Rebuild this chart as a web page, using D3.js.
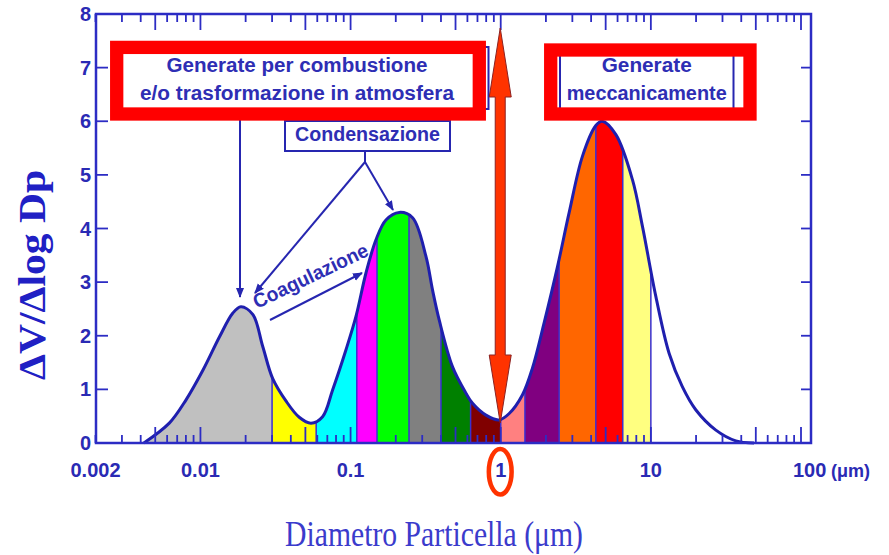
<!DOCTYPE html>
<html>
<head>
<meta charset="utf-8">
<script src="https://cdn.jsdelivr.net/npm/d3@7"></script>
<style>
  html, body { margin: 0; padding: 0; background: #ffffff; }
  svg { display: block; }
</style>
</head>
<body>
<svg id="chart" width="889" height="555"></svg>
<script>
// ---- data ----
const diameters = [0.0042, 0.0062, 0.0080, 0.0104, 0.0134, 0.0164, 0.0186, 0.0223, 0.0260, 0.0303,
  0.0372, 0.0455, 0.0545, 0.0651, 0.0759, 0.0932, 0.1086, 0.1266, 0.1476, 0.172,
  0.211, 0.2588, 0.3177, 0.3516, 0.3896, 0.4777, 0.5866, 0.6491, 0.797, 0.977,
  1.139, 1.397, 1.628, 1.949, 2.389, 2.858, 3.505, 4.30, 4.74, 5.85,
  7.54, 8.79, 10.8, 13.24, 16.2, 19.9, 27.1, 36.8, 48.7];
const dvdlogdp = [0, 0.37, 0.80, 1.36, 1.98, 2.42, 2.54, 2.40, 1.80, 1.20,
  0.78, 0.48, 0.37, 0.49, 0.99, 1.74, 2.36, 3.17, 3.79, 4.16,
  4.30, 4.20, 3.48, 2.85, 2.29, 1.42, 0.93, 0.74, 0.52, 0.43,
  0.55, 0.90, 1.40, 2.25, 3.29, 4.30, 5.35, 5.92, 6.00, 5.75,
  4.91, 4.04, 2.73, 1.67, 1.05, 0.62, 0.24, 0.04, 0];
const bandEdges = [0.0042, 0.03, 0.059, 0.11, 0.15, 0.245, 0.40, 0.63, 1.0, 1.45, 2.45, 4.3, 6.5, 10];
const bandColors = ["#c0c0c0", "#ffff00", "#00ffff", "#ff00ff", "#00ff00", "#808080", "#008000",
  "#800000", "#ff8080", "#800080", "#ff6600", "#ff0000", "#ffff80"];
const xTickLabels = ["0.002", "0.01", "0.1", "1", "10", "100"];
const xTickValues = [0.002, 0.01, 0.1, 1, 10, 100];
const yTickValues = [0, 1, 2, 3, 4, 5, 6, 7, 8];
const yTitle = "\u0394V/\u0394log Dp";
const xTitle = "Diametro Particella (\u03bcm)";
const unitLabel = "(\u03bcm)";
const boxFineLines = ["Generate per combustione", "e/o trasformazione in atmosfera"];
const boxCoarseLines = ["Generate", "meccanicamente"];
const condLabel = "Condensazione";
const coagLabel = "Coagulazione";

// ---- scales ----
const x = d3.scaleLog().domain([0.002, 100]).range([95.5, 801]);
const y = d3.scaleLinear().domain([0, 8]).range([443, 14]);
const frame = {left: 96, right: 811, top: 14, bottom: 443};

const svg = d3.select("#chart");
const blue = "#2c2cc4";
const curveBlue = "#1f1fae";
const txtBlue = "#2e2eb4";

const defs = svg.append("defs");
const pts = diameters.map((d, i) => [d, dvdlogdp[i]]);
const crv = d3.curveCatmullRom.alpha(0.5);
const area = d3.area().x(d => x(d[0])).y0(y(0)).y1(d => y(d[1])).curve(crv);
const line = d3.line().x(d => x(d[0])).y(d => y(d[1])).curve(crv);

defs.append("clipPath").attr("id", "under").append("path").attr("d", area(pts));
defs.append("marker").attr("id", "ah").attr("viewBox", "0 0 10 10")
  .attr("refX", 9).attr("refY", 5).attr("markerWidth", 5).attr("markerHeight", 5)
  .attr("markerUnits", "strokeWidth").attr("orient", "auto")
  .append("path").attr("d", "M0,1 L10,5 L0,9 Z").attr("fill", "#2626b0");

// ---- colored bands under the curve ----
const bands = svg.append("g").attr("clip-path", "url(#under)");
bandColors.forEach((c, i) => {
  bands.append("rect")
    .attr("x", x(bandEdges[i])).attr("width", x(bandEdges[i + 1]) - x(bandEdges[i]))
    .attr("y", y(8)).attr("height", y(0) - y(8)).attr("fill", c);
});
bandEdges.slice(1).forEach(e => {
  bands.append("line").attr("x1", x(e)).attr("x2", x(e)).attr("y1", y(0)).attr("y2", y(8))
    .attr("stroke", "#3a2fd0").attr("stroke-width", 1.5);
});

// ---- curve ----
svg.append("path").attr("d", line(pts)).attr("fill", "none")
  .attr("stroke", curveBlue).attr("stroke-width", 3).attr("stroke-linejoin", "round");

// ---- frame and ticks ----
svg.append("rect").attr("x", frame.left).attr("y", frame.top)
  .attr("width", frame.right - frame.left).attr("height", frame.bottom - frame.top)
  .attr("fill", "none").attr("stroke", blue).attr("stroke-width", 2.5);

const logTicks = [];
[0.001, 0.01, 0.1, 1, 10].forEach(dec => {
  for (let m = 1; m <= 9; m++) {
    const v = +(dec * m).toPrecision(3);
    if (v >= 0.002 && v <= 100) logTicks.push({v: v, major: (m === 1 || m === 5)});
  }
});
logTicks.push({v: 100, major: true});
const tk = svg.append("g").attr("stroke", blue).attr("stroke-width", 1.8);
logTicks.forEach(t => {
  const L = t.major ? 16 : 8;
  tk.append("line").attr("x1", x(t.v)).attr("x2", x(t.v)).attr("y1", frame.bottom).attr("y2", frame.bottom - L);
  tk.append("line").attr("x1", x(t.v)).attr("x2", x(t.v)).attr("y1", frame.top).attr("y2", frame.top + L);
});
yTickValues.forEach(v => {
  tk.append("line").attr("x1", frame.left).attr("x2", frame.left + 12).attr("y1", y(v)).attr("y2", y(v));
  tk.append("line").attr("x1", frame.right).attr("x2", frame.right - 10).attr("y1", y(v)).attr("y2", y(v));
});

// tick labels
const lab = svg.append("g").attr("font-family", "'Liberation Sans', Arial, sans-serif")
  .attr("font-weight", "bold").attr("font-size", 20).attr("fill", "#2a2ab4");
xTickValues.forEach((v, i) => {
  if (v === 100) {
    lab.append("text").attr("x", x(v) - 8).attr("y", 477).attr("text-anchor", "start").text(xTickLabels[i]);
  } else {
    lab.append("text").attr("x", x(v)).attr("y", 477).attr("text-anchor", "middle").text(xTickLabels[i]);
  }
});
lab.append("text").attr("x", x(100) + 30).attr("y", 477).attr("text-anchor", "start")
  .attr("font-size", 18).text(unitLabel);
yTickValues.forEach(v => {
  lab.append("text").attr("x", 91).attr("y", y(v) + 7).attr("text-anchor", "end").text(String(v));
});

// axis titles
svg.append("text").attr("transform", "translate(45,275) rotate(-90)")
  .attr("text-anchor", "middle").attr("font-family", "'Liberation Serif', 'Times New Roman', serif")
  .attr("font-weight", "bold").attr("font-size", 38).attr("fill", "#2020c4")
  .attr("textLength", 210).attr("lengthAdjust", "spacingAndGlyphs").text(yTitle);
svg.append("text").attr("x", 434).attr("y", 546)
  .attr("text-anchor", "middle").attr("font-family", "'Liberation Serif', 'Times New Roman', serif")
  .attr("font-size", 36).attr("fill", "#3b3bcc")
  .attr("textLength", 298).attr("lengthAdjust", "spacingAndGlyphs").text(xTitle);

// ---- annotations ----
const ann = svg.append("g");
const annFont = (sel, w) => sel.attr("font-family", "'Liberation Sans', Arial, sans-serif")
  .attr("font-weight", "bold").attr("font-size", 20).attr("fill", txtBlue)
  .attr("text-anchor", "middle").attr("textLength", w).attr("lengthAdjust", "spacingAndGlyphs");

// vertical arrow from fine box to fine peak
ann.append("line").attr("x1", 240).attr("x2", 240).attr("y1", 110).attr("y2", 297)
  .attr("stroke", "#2626b0").attr("stroke-width", 2).attr("marker-end", "url(#ah)");

// Condensazione box and connectors
ann.append("rect").attr("x", 285).attr("y", 121).attr("width", 165).attr("height", 30)
  .attr("fill", "#fff").attr("stroke", "#2626b0").attr("stroke-width", 2);
annFont(ann.append("text").attr("x", 367.5).attr("y", 141), 145).text(condLabel);
ann.append("line").attr("x1", 365).attr("x2", 365).attr("y1", 151).attr("y2", 162)
  .attr("stroke", "#2626b0").attr("stroke-width", 2);
ann.append("line").attr("x1", 365).attr("y1", 162).attr("x2", 255).attr("y2", 293)
  .attr("stroke", "#2626b0").attr("stroke-width", 2).attr("marker-end", "url(#ah)");
ann.append("line").attr("x1", 365).attr("y1", 162).attr("x2", 393).attr("y2", 210)
  .attr("stroke", "#2626b0").attr("stroke-width", 2).attr("marker-end", "url(#ah)");

// Coagulazione
annFont(ann.append("text").attr("transform", "translate(313.5,282) rotate(-25.5)")
  .attr("font-size", 19), 125).text(coagLabel);
ann.append("line").attr("x1", 270).attr("y1", 320).attr("x2", 362).attr("y2", 273)
  .attr("stroke", "#2626b0").attr("stroke-width", 2).attr("marker-end", "url(#ah)");

// blue boxes behind red frames
ann.append("rect").attr("x", 120).attr("y", 47).attr("width", 368.5).attr("height", 62)
  .attr("fill", "#fff").attr("stroke", "#2626b0").attr("stroke-width", 2);
ann.append("rect").attr("x", 560).attr("y", 50).attr("width", 173.5).attr("height", 62)
  .attr("fill", "#fff").attr("stroke", "#2626b0").attr("stroke-width", 2);

// red frames
ann.append("rect").attr("x", 116.7).attr("y", 47.4).attr("width", 362.6).attr("height", 66.6)
  .attr("fill", "none").attr("stroke", "#ff0000").attr("stroke-width", 13.3);
ann.append("rect").attr("x", 550.7).attr("y", 50).attr("width", 199.3).attr("height", 64)
  .attr("fill", "none").attr("stroke", "#ff0000").attr("stroke-width", 13.3);

annFont(ann.append("text").attr("x", 297).attr("y", 72), 261).text(boxFineLines[0]);
annFont(ann.append("text").attr("x", 297).attr("y", 99.5), 314).text(boxFineLines[1]);
annFont(ann.append("text").attr("x", 646.7).attr("y", 72), 90).text(boxCoarseLines[0]);
annFont(ann.append("text").attr("x", 646.7).attr("y", 100), 160).text(boxCoarseLines[1]);

// red double arrow at 1 µm
const ax = x(1) - 0.5;
const arrowPts = [[ax, 28], [ax - 11, 97], [ax - 5, 97], [ax - 5, 355], [ax - 11, 355], [ax, 423],
  [ax + 11, 355], [ax + 5, 355], [ax + 5, 97], [ax + 11, 97]];
ann.append("path").attr("d", "M" + arrowPts.map(p => p.join(",")).join("L") + "Z")
  .attr("fill", "#ff3300").attr("stroke", "#8b2222").attr("stroke-width", 1);

// red ellipse around "1"
ann.append("ellipse").attr("cx", ax).attr("cy", 471.7).attr("rx", 11.4).attr("ry", 22.8)
  .attr("fill", "none").attr("stroke", "#ff3300").attr("stroke-width", 4.5);
</script>
</body>
</html>
